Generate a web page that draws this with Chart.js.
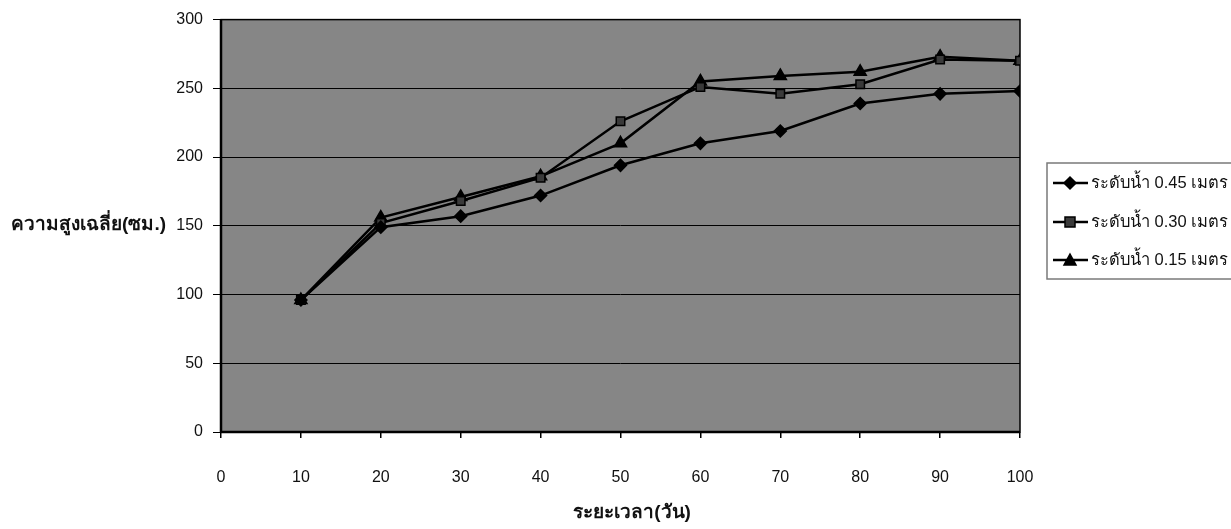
<!DOCTYPE html>
<html>
<head>
<meta charset="utf-8">
<script src="https://cdn.jsdelivr.net/npm/chart.js@4.4.1/dist/chart.umd.min.js"></script>
<style>
html,body{margin:0;padding:0;background:#ffffff;}
#wrap{width:1231px;height:529px;position:relative;}
</style>
</head>
<body>
<div id="wrap"><canvas id="c" width="1231" height="529"></canvas></div>
<script>
const days = [10, 20, 30, 40, 50, 60, 70, 80, 90, 100];
const level045 = [96, 149, 157, 172, 194, 210, 219, 239, 246, 248];
const level030 = [96, 152, 168, 185, 226, 251, 246, 253, 271, 270];
const level015 = [96, 156, 171, 186, 210, 255, 259, 262, 273, 270];
const seriesNames = ['ระดับน้ำ 0.45 เมตร', 'ระดับน้ำ 0.30 เมตร', 'ระดับน้ำ 0.15 เมตร'];
const xTitle = 'ระยะเวลา(วัน)';
const yTitle = 'ความสูงเฉลี่ย(ซม.)';
const xTicks = [0, 10, 20, 30, 40, 50, 60, 70, 80, 90, 100];
const yTicks = [0, 50, 100, 150, 200, 250, 300];

const FONT = '"Liberation Sans", Arial, "DejaVu Sans", "Noto Sans", sans-serif';
const toXY = vals => days.map((d, i) => ({x: d, y: vals[i]}));

const styles = [
  {pointStyle: 'rectRot', radius: 6, fill: '#000000'},
  {pointStyle: 'rect', radius: 6, fill: '#3a3a3a'},
  {pointStyle: 'triangle', radius: 7, fill: '#000000'}
];

function mkDs(label, vals, st) {
  return {
    label: label,
    data: toXY(vals),
    borderColor: '#000000',
    borderWidth: 2.5,
    pointStyle: st.pointStyle,
    pointRadius: st.radius,
    pointBackgroundColor: st.fill,
    pointBorderColor: '#000000',
    pointBorderWidth: 1.5,
    tension: 0,
    fill: false
  };
}

const bgPlugin = {
  id: 'bg',
  beforeDraw(chart) {
    const {ctx, chartArea: a} = chart;
    ctx.save();
    ctx.fillStyle = '#868686';
    ctx.fillRect(a.left, a.top, a.right - a.left, a.bottom - a.top);
    ctx.restore();
  },
  beforeDatasetsDraw(chart) {
    const {ctx, chartArea: a} = chart;
    ctx.save();
    ctx.strokeStyle = '#000000';
    ctx.lineWidth = 1.5;
    ctx.strokeRect(a.left, a.top, a.right - a.left, a.bottom - a.top);
    ctx.lineWidth = 2.5;
    ctx.beginPath();
    ctx.moveTo(a.left, a.bottom);
    ctx.lineTo(a.right, a.bottom);
    ctx.moveTo(a.left, a.top);
    ctx.lineTo(a.left, a.bottom);
    ctx.stroke();
    ctx.restore();
  },
  afterDraw(chart) {
    const {ctx} = chart;
    ctx.save();
    ctx.fillStyle = '#111111';
    ctx.font = 'bold 19px ' + FONT;
    ctx.textBaseline = 'middle';
    ctx.textAlign = 'right';
    ctx.fillText(yTitle, 166, 225);
    ctx.textAlign = 'center';
    ctx.fillText(xTitle, 632, 513);

    // legend
    const lx = 1047, ly = 163, lw = 190, lh = 116;
    ctx.strokeStyle = '#7a7a7a';
    ctx.lineWidth = 1.5;
    ctx.strokeRect(lx, ly, lw, lh);
    const rows = [183, 222, 260];
    ctx.font = '16.5px ' + FONT;
    ctx.textAlign = 'left';
    rows.forEach((ry, i) => {
      ctx.strokeStyle = '#000000';
      ctx.lineWidth = 2.5;
      ctx.beginPath();
      ctx.moveTo(1053, ry);
      ctx.lineTo(1088, ry);
      ctx.stroke();
      const cx = 1070;
      ctx.fillStyle = styles[i].fill;
      ctx.strokeStyle = '#000000';
      ctx.lineWidth = 1.5;
      ctx.beginPath();
      if (i === 0) {
        ctx.moveTo(cx, ry - 6); ctx.lineTo(cx + 6, ry); ctx.lineTo(cx, ry + 6); ctx.lineTo(cx - 6, ry); ctx.closePath();
      } else if (i === 1) {
        ctx.rect(cx - 5, ry - 5, 10, 10);
      } else {
        ctx.moveTo(cx, ry - 6); ctx.lineTo(cx + 6, ry + 5); ctx.lineTo(cx - 6, ry + 5); ctx.closePath();
      }
      ctx.fill();
      ctx.stroke();
      ctx.fillStyle = '#111111';
      ctx.fillText(seriesNames[i], 1091, ry);
    });
    ctx.restore();
  }
};

new Chart(document.getElementById('c'), {
  type: 'line',
  data: {
    datasets: [
      mkDs(seriesNames[0], level045, styles[0]),
      mkDs(seriesNames[1], level030, styles[1]),
      mkDs(seriesNames[2], level015, styles[2])
    ]
  },
  options: {
    responsive: false,
    animation: false,
    layout: {padding: {left: 0, right: 211, top: 17, bottom: 0}},
    plugins: {legend: {display: false}, tooltip: {enabled: false}},
    scales: {
      x: {
        type: 'linear',
        min: 0, max: 100,
        afterBuildTicks: s => { s.ticks = xTicks.map(v => ({value: v})); },
        afterFit: s => { s.height = 97; },
        ticks: {color: '#111111', font: {family: FONT, size: 16}, padding: 30, maxRotation: 0},
        grid: {drawOnChartArea: false, color: '#000000', tickLength: 6, lineWidth: 1.5},
        border: {display: false}
      },
      y: {
        min: 0, max: 300,
        afterBuildTicks: s => { s.ticks = yTicks.map(v => ({value: v})); },
        afterFit: s => { s.width = 221; },
        ticks: {color: '#111111', font: {family: FONT, size: 16}, padding: 10},
        grid: {color: '#000000', lineWidth: 1, tickLength: 8},
        border: {display: false}
      }
    }
  },
  plugins: [bgPlugin]
});
</script>
</body>
</html>
